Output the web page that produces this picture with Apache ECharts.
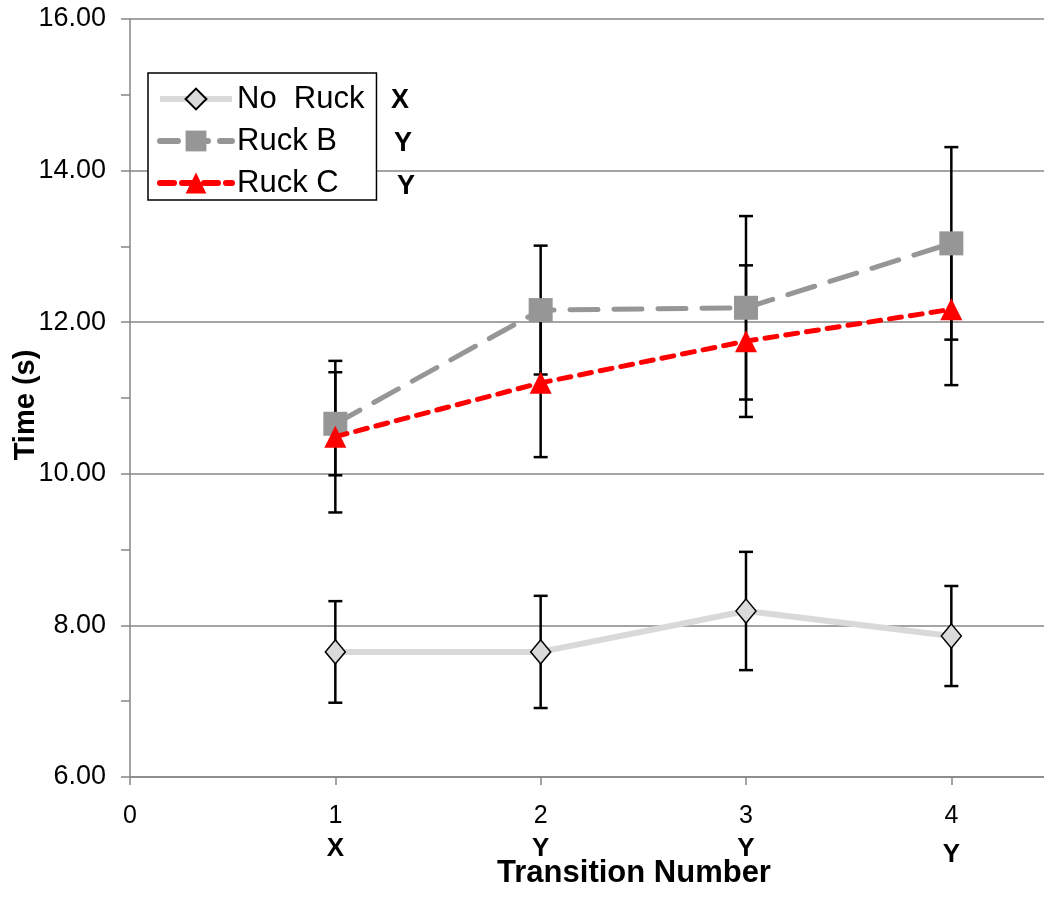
<!DOCTYPE html>
<html>
<head>
<meta charset="utf-8">
<script src="https://cdn.jsdelivr.net/npm/echarts@6/dist/echarts.min.js"></script>
<style>
html,body{margin:0;padding:0;background:#fff;}
#chart{width:1044px;height:900px;}
</style>
</head>
<body>
<div id="chart"></div>
<script>
const xValues = [1, 2, 3, 4];
const xLetters = ['X', 'Y', 'Y', 'Y'];
const seriesNames = ['No  Ruck', 'Ruck B', 'Ruck C'];
const noRuck = [7.65, 7.65, 8.19, 7.86];
const noRuckErr = [0.67, 0.74, 0.78, 0.66];
const ruckB = [10.66, 12.16, 12.19, 13.04];
const ruckBErr = [0.68, 0.85, 1.21, 1.27];
const ruckC = [10.49, 11.20, 11.75, 12.17];
const ruckCErr = [1.00, 0.98, 1.00, 1.00];
const legendLetters = ['X', 'Y', 'Y'];
const yMin = 6, yMax = 16, yInterval = 2;
const xMin = 0, xMax = 4.5, xInterval = 1;

const FONT = '"Liberation Sans", Arial, sans-serif';

function pts(vals) { return xValues.map((x, i) => [x, vals[i]]); }
function errData(vals, errs) { return xValues.map((x, i) => [x, vals[i] - errs[i], vals[i] + errs[i]]); }

function errRender(params, api) {
  const x = api.value(0);
  const lo = api.coord([x, api.value(1)]);
  const hi = api.coord([x, api.value(2)]);
  const hw = 7;
  const st = { stroke: '#000', lineWidth: 2.5 };
  return {
    type: 'group',
    children: [
      { type: 'line', shape: { x1: lo[0], y1: lo[1], x2: hi[0], y2: hi[1] }, style: st },
      { type: 'line', shape: { x1: lo[0] - hw, y1: lo[1], x2: lo[0] + hw, y2: lo[1] }, style: st },
      { type: 'line', shape: { x1: hi[0] - hw, y1: hi[1], x2: hi[0] + hw, y2: hi[1] }, style: st }
    ]
  };
}

const chart = echarts.init(document.getElementById('chart'), null, { renderer: 'canvas' });
const option = {
  animation: false,
  backgroundColor: '#fff',
  grid: { left: 130, top: 19, bottom: 123, right: -10, containLabel: false, outerBoundsMode: 'none' },
  xAxis: {
    type: 'value', min: xMin, max: xMax, interval: xInterval,
    axisLine: { show: true, lineStyle: { color: '#868686', width: 1.5 } },
    axisTick: { show: true, length: 8, lineStyle: { color: '#868686', width: 1.5 } },
    splitLine: { show: false },
    axisLabel: {
      margin: 23,
      formatter: function (v) {
        if (Math.abs(v - Math.round(v)) > 1e-6) return '';
        const i = xValues.indexOf(Math.round(v));
        if (i < 0) return '{n|' + Math.round(v) + '}';
        const st = (i === xValues.length - 1) ? 'c' : 'b';
        return '{n|' + Math.round(v) + '}\n{' + st + '|' + xLetters[i] + '}';
      },
      rich: {
        n: { fontFamily: FONT, fontSize: 25, color: '#000', lineHeight: 32 },
        b: { fontFamily: FONT, fontSize: 26, fontWeight: 'bold', color: '#000', lineHeight: 33 },
        c: { fontFamily: FONT, fontSize: 26, fontWeight: 'bold', color: '#000', lineHeight: 33, padding: [12, 0, 0, 0] }
      }
    }
  },
  yAxis: {
    type: 'value', min: yMin, max: yMax, interval: yInterval,
    axisLine: { show: true, lineStyle: { color: '#868686', width: 1.5 } },
    axisTick: { show: true, length: 9, lineStyle: { color: '#868686', width: 1.5 } },
    minorTick: { show: true, splitNumber: 2, length: 9, lineStyle: { color: '#868686', width: 1.5 } },
    splitLine: { show: true, lineStyle: { color: '#868686', width: 1.5 } },
    axisLabel: {
      margin: 24, fontFamily: FONT, fontSize: 27, color: '#000',
      formatter: v => v.toFixed(2)
    }
  },
  legend: {
    show: true, orient: 'vertical', left: 148, top: 73,
    data: [
      { name: seriesNames[0], lineStyle: { color: '#d9d9d9', width: 6 } },
      { name: seriesNames[1], lineStyle: { color: '#969696', width: 6, type: [18, 12], cap: 'round' } },
      { name: seriesNames[2], lineStyle: { color: '#ff0000', width: 6, type: [14, 8], cap: 'round' } }
    ],
    backgroundColor: '#fff', borderColor: '#000', borderWidth: 1.5, borderRadius: 0,
    padding: [9, 12, 0, 9],
    itemWidth: 72, itemHeight: 26, itemGap: 8,
    textStyle: { fontFamily: FONT, fontSize: 31, color: '#000', lineHeight: 34 }
  },
  graphic: [
    { type: 'text', left: 391, top: 87, style: { text: legendLetters[0], font: 'bold 27px ' + FONT, fill: '#000' } },
    { type: 'text', left: 394, top: 130, style: { text: legendLetters[1], font: 'bold 27px ' + FONT, fill: '#000' } },
    { type: 'text', left: 397, top: 173, style: { text: legendLetters[2], font: 'bold 27px ' + FONT, fill: '#000' } },
    { type: 'text', x: 634, y: 873, style: { text: 'Transition Number', font: 'bold 31px ' + FONT, fill: '#000', textAlign: 'center', textVerticalAlign: 'middle' } },
    { type: 'text', x: 26, y: 405, rotation: Math.PI / 2, style: { text: 'Time (s)', font: 'bold 29px ' + FONT, fill: '#000', textAlign: 'center', textVerticalAlign: 'middle' } }
  ],
  series: [
    { type: 'custom', name: 'errNo', renderItem: errRender, data: errData(noRuck, noRuckErr), z: 1, silent: true },
    { type: 'custom', name: 'errB', renderItem: errRender, data: errData(ruckB, ruckBErr), z: 1, silent: true },
    { type: 'custom', name: 'errC', renderItem: errRender, data: errData(ruckC, ruckCErr), z: 1, silent: true },
    {
      type: 'line', name: seriesNames[0], data: pts(noRuck), z: 3,
      symbol: 'diamond', symbolSize: [20, 24], showAllSymbol: true,
      lineStyle: { color: '#d9d9d9', width: 6 },
      itemStyle: { color: '#dadada', borderColor: '#000', borderWidth: 1.5 }
    },
    {
      type: 'line', name: seriesNames[1], data: pts(ruckB), z: 4,
      symbol: 'rect', symbolSize: 24, showAllSymbol: true,
      lineStyle: { color: '#969696', width: 5, type: [28, 16], cap: 'round' },
      itemStyle: { color: '#969696', borderWidth: 0 }
    },
    {
      type: 'line', name: seriesNames[2], data: pts(ruckC), z: 5,
      symbol: 'triangle', symbolSize: 22, showAllSymbol: true,
      lineStyle: { color: '#ff0000', width: 5, type: [12, 9], cap: 'round' },
      itemStyle: { color: '#ff0000', borderWidth: 0 }
    }
  ]
};
chart.setOption(option);
</script>
</body>
</html>
